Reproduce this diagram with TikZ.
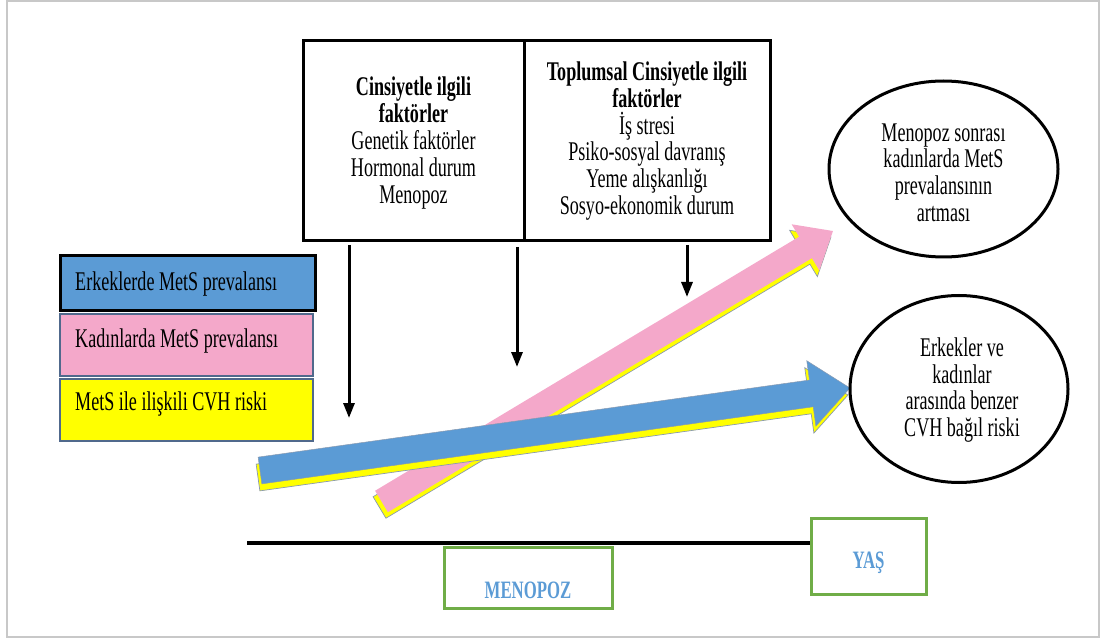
\documentclass[tikz,border=0pt]{standalone}
\usepackage{fontspec}
\setmainfont[FakeStretch=0.67]{Liberation Serif}
\usetikzlibrary{shapes.geometric,arrows.meta}
\definecolor{mblue}{HTML}{5B9BD5}
\definecolor{mpink}{HTML}{F4A8CA}
\definecolor{myellow}{HTML}{FFFF00}
\definecolor{mgreen}{HTML}{70AD47}
\definecolor{mframe}{HTML}{C8C8C8}
\definecolor{mlegend}{HTML}{50698C}
\definecolor{medge}{HTML}{8A9AB0}
\tikzset{
  txt/.style={font=\fontsize{27}{26.8}\selectfont, align=center},
  factorbox/.style={draw=black, line width=3pt, minimum height=200pt, inner sep=0pt},
  legendbox/.style={line width=2pt, inner sep=0pt},
  legtext/.style={font=\fontsize{27}{26.8}\selectfont, anchor=west, inner sep=0pt},
  oval/.style={ellipse, draw=black, line width=3pt, inner sep=0pt},
  greenbox/.style={draw=mgreen, line width=3pt, inner sep=0pt},
  gtext/.style={font=\fontsize{25}{26}\selectfont\bfseries, text=mblue},
  downarrow/.style={line width=3pt, -{Triangle[width=11pt,length=15pt]}},
  bigarrow/.style={draw=medge, line width=0.7pt, line join=miter},
}
\begin{document}
\begin{tikzpicture}[x=1pt,y=-1pt]
\useasboundingbox (0,0) rectangle (1104,639);
\draw[mframe, line width=2pt] (7,1) rectangle (1099,637);

% big arrows (pink under blue), each with yellow shadow
\begin{scope}[shift={(379.5,507.5)}, rotate=30.93]
  \fill[myellow, bigarrow] (0,-12.5) -- (494.3,-12.5) -- (494.3,-27) -- (526.3,0) -- (494.3,27) -- (494.3,12.5) -- (0,12.5) -- cycle;
\end{scope}
\begin{scope}[shift={(381.5,501.5)}, rotate=30.93]
  \fill[mpink] (0,-12.5) -- (494.3,-12.5) -- (494.3,-27) -- (526.3,0) -- (494.3,27) -- (494.3,12.5) -- (0,12.5) -- cycle;
\end{scope}
\begin{scope}[shift={(258,477.5)}, rotate=7.96]
  \fill[myellow, bigarrow] (0,-13.5) -- (556.7,-13.5) -- (556.7,-33) -- (595.7,0) -- (556.7,33) -- (556.7,13.5) -- (0,13.5) -- cycle;
\end{scope}
\begin{scope}[shift={(260,470.5)}, rotate=7.96]
  \fill[mblue, draw=medge, line width=0.5pt] (0,-13.5) -- (556.7,-13.5) -- (556.7,-33) -- (595.7,0) -- (556.7,33) -- (556.7,13.5) -- (0,13.5) -- cycle;
\end{scope}

% factor boxes
\node[factorbox, minimum width=221pt] (lbox) at (413.5,141) {};
\node[factorbox, minimum width=246pt] (rbox) at (647,141) {};
\node[txt] (ltxt) at (413.5,143) {\textbf{Cinsiyetle ilgili}\\ \textbf{faktörler}\\ Genetik faktörler\\ Hormonal durum\\ Menopoz};
\node[txt] (rtxt) at (647,141) {\textbf{Toplumsal Cinsiyetle ilgili}\\ \textbf{faktörler}\\ İş stresi\\ Psiko-sosyal davranış\\ Yeme alışkanlığı\\ Sosyo-ekonomik durum};

% down arrows
\coordinate (d1s) at (349,245); \coordinate (d1e) at (349,418);
\coordinate (d2s) at (517,247); \coordinate (d2e) at (517,367);
\coordinate (d3s) at (687,245); \coordinate (d3e) at (687,297);
\draw[downarrow] (d1s) -- (d1e);
\draw[downarrow] (d2s) -- (d2e);
\draw[downarrow] (d3s) -- (d3e);

% legend
\node[legendbox, fill=mblue, draw=black, line width=3pt, minimum width=255pt, minimum height=55pt] (lb) at (187.5,283.5) {};
\node[legendbox, fill=mpink, draw=mlegend, minimum width=253pt, minimum height=62pt] (lp) at (186.5,345) {};
\node[legendbox, fill=myellow, draw=mlegend, minimum width=253pt, minimum height=62pt] (ly) at (186.5,410) {};
\node[legtext] (lbt) at (75,284) {Erkeklerde MetS prevalansı};
\node[legtext] (lpt) at (75,341) {Kadınlarda MetS prevalansı};
\node[legtext] (lyt) at (75,404) {MetS ile ilişkili CVH riski};

% ellipses
\node[oval, minimum width=229pt, minimum height=176pt] (e1) at (943.5,169) {};
\node[txt] (e1t) at (943.5,172.5) {Menopoz sonrası\\ kadınlarda MetS\\ prevalansının\\ artması};
\node[oval, minimum width=218pt, minimum height=187pt] (e2) at (959,389) {};
\node[txt] (e2t) at (962,390) {Erkekler ve\\ kadınlar\\ arasında benzer\\ CVH bağıl riski};

% age axis
\node[greenbox, minimum width=168pt, minimum height=61pt] (meno) at (528,577.5) {};
\node[gtext] (menot) at (528,590) {MENOPOZ};
\node[greenbox, minimum width=115pt, minimum height=76pt] (yas) at (868.5,556) {};
\node[gtext] (yast) at (868.5,563) {YAŞ};
\coordinate (ax) at (247,543);
\draw[black, line width=3.5pt] (ax) -- (ax -| yas.west);
\end{tikzpicture}
\end{document}
